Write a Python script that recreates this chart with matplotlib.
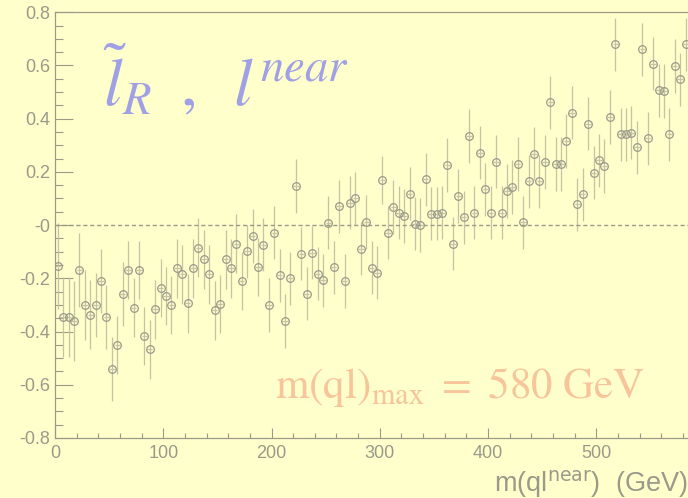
import numpy as np
import matplotlib
matplotlib.use("Agg")
import matplotlib.pyplot as plt
from matplotlib.ticker import MultipleLocator

# bin centres (GeV), 5 GeV bins
mass = [2.5, 7.5, 12.5, 17.5, 22.5, 27.5, 32.5, 37.5, 42.5, 47.5,
        52.5, 57.5, 62.5, 67.5, 72.5, 77.5, 82.5, 87.5, 92.5, 97.5,
        102.5, 107.5, 112.5, 117.5, 122.5, 127.5, 132.5, 137.5, 142.5, 147.5,
        152.5, 157.5, 162.5, 167.5, 172.5, 177.5, 182.5, 187.5, 192.5, 197.5,
        202.5, 207.5, 212.5, 217.5, 222.5, 227.5, 232.5, 237.5, 242.5, 247.5,
        252.5, 257.5, 262.5, 267.5, 272.5, 277.5, 282.5, 287.5, 292.5, 297.5,
        302.5, 307.5, 312.5, 317.5, 322.5, 327.5, 332.5, 337.5, 342.5, 347.5,
        352.5, 357.5, 362.5, 367.5, 372.5, 377.5, 382.5, 387.5, 392.5, 397.5,
        402.5, 407.5, 412.5, 417.5, 422.5, 427.5, 432.5, 437.5, 442.5, 447.5,
        452.5, 457.5, 462.5, 467.5, 472.5, 477.5, 482.5, 487.5, 492.5, 497.5,
        502.5, 507.5, 512.5, 517.5, 522.5, 527.5, 532.5, 537.5, 542.5, 547.5,
        552.5, 557.5, 562.5, 567.5, 572.5, 577.5, 582.5]

asym = [-0.154, -0.346, -0.346, -0.360, -0.169, -0.300, -0.336, -0.300, -0.210, -0.346,
        -0.540, -0.450, -0.260, -0.169, -0.310, -0.169, -0.417, -0.467, -0.317, -0.236,
        -0.267, -0.300, -0.163, -0.185, -0.294, -0.163, -0.085, -0.129, -0.185, -0.320,
        -0.296, -0.129, -0.163, -0.070, -0.210, -0.098, -0.041, -0.158, -0.073, -0.300,
        -0.029, -0.188, -0.360, -0.200, 0.147, -0.108, -0.258, -0.104, -0.183, -0.208,
        0.009, -0.158, 0.071, -0.210, 0.084, 0.100, -0.089, 0.012, -0.160, -0.179,
        0.168, -0.029, 0.068, 0.046, 0.034, 0.118, 0.005, 0.000, 0.172, 0.043,
        0.043, 0.046, 0.226, -0.070, 0.109, 0.030, 0.335, 0.046, 0.272, 0.134,
        0.046, 0.238, 0.046, 0.128, 0.143, 0.230, 0.011, 0.165, 0.268, 0.165,
        0.237, 0.462, 0.230, 0.230, 0.316, 0.422, 0.078, 0.115, 0.381, 0.197,
        0.243, 0.222, 0.406, 0.679, 0.341, 0.341, 0.347, 0.293, 0.660, 0.326,
        0.606, 0.506, 0.504, 0.341, 0.598, 0.548, 0.680]

err = [0.16, 0.15, 0.15, 0.15, 0.14, 0.13, 0.13, 0.12, 0.12, 0.12,
       0.12, 0.11, 0.12, 0.11, 0.11, 0.11, 0.11, 0.11, 0.11, 0.11,
       0.11, 0.11, 0.11, 0.11, 0.11, 0.11, 0.11, 0.11, 0.11, 0.11,
       0.11, 0.11, 0.11, 0.11, 0.11, 0.10, 0.10, 0.11, 0.10, 0.10,
       0.10, 0.10, 0.10, 0.10, 0.10, 0.10, 0.10, 0.10, 0.10, 0.10,
       0.10, 0.10, 0.10, 0.10, 0.10, 0.10, 0.10, 0.10, 0.10, 0.10,
       0.09, 0.10, 0.10, 0.10, 0.10, 0.10, 0.10, 0.10, 0.10, 0.10,
       0.10, 0.10, 0.10, 0.10, 0.10, 0.10, 0.10, 0.10, 0.10, 0.10,
       0.10, 0.10, 0.10, 0.10, 0.10, 0.10, 0.10, 0.10, 0.10, 0.10,
       0.10, 0.10, 0.10, 0.10, 0.10, 0.10, 0.10, 0.10, 0.10, 0.10,
       0.10, 0.10, 0.10, 0.10, 0.10, 0.10, 0.10, 0.10, 0.10, 0.10,
       0.10, 0.10, 0.10, 0.10, 0.10, 0.10, 0.10]

ytick_vals = [-0.8, -0.6, -0.4, -0.2, 0.0, 0.2, 0.4, 0.6, 0.8]
ytick_text = ["-0.8", "-0.6", "-0.4", "-0.2", "-0", "0.2", "0.4", "0.6", "0.8"]
xtick_vals = [0, 100, 200, 300, 400, 500]

BG = "#ffffcc"
GREY = "#9a9a8a"
LIGHT = "#c4c4a4"

plt.rcParams["font.family"] = ["Liberation Sans", "DejaVu Sans"]
plt.rcParams["mathtext.fontset"] = "stix"

fig = plt.figure(figsize=(6.88, 4.98), dpi=100, facecolor=BG)
ax = fig.add_axes([0.080, 0.1205, 0.944, 0.855], facecolor=BG)

ax.errorbar(mass, asym, yerr=err, xerr=2.5, fmt="o", ms=5.5, mfc="none",
            mec=GREY, mew=0.9, ecolor=LIGHT, elinewidth=0.9, capsize=0)
ax.axhline(0, color=GREY, lw=1.0, ls=(0, (3, 2)))

ax.set_xlim(0, 600)
ax.set_ylim(-0.8, 0.8)
ax.set_yticks(ytick_vals)
ax.set_yticklabels(ytick_text)
ax.set_xticks(xtick_vals)
ax.xaxis.set_minor_locator(MultipleLocator(20))
ax.yaxis.set_minor_locator(MultipleLocator(0.05))
ax.tick_params(axis="y", which="major", direction="in", length=13, width=0.8,
               color=GREY, labelcolor=GREY, labelsize=13, pad=3.5)
ax.tick_params(axis="y", which="minor", direction="in", length=6, width=0.8, color=GREY)
ax.tick_params(axis="x", which="major", direction="in", length=7.5, width=0.8,
               color=GREY, labelcolor=GREY, labelsize=13, pad=5)
ax.tick_params(axis="x", which="minor", direction="in", length=3.6, width=0.8, color=GREY)
for s in ax.spines.values():
    s.set_color(GREY)
    s.set_linewidth(0.9)

fig.text(103 / 688, 1 - 105 / 498, r"$\tilde{l}_R\;\;,\;\;l^{near}$",
         fontsize=48, color="#a0a0e4", va="baseline", ha="left")
ax.text(0.339, 0.094, r"$\mathrm{m(ql)_{max}\ =\ 580\ GeV}$", transform=ax.transAxes,
        fontsize=31, color="#f8c49a", va="baseline", ha="left")
fig.text(1.0, 7 / 498, r"m(ql$^{\mathrm{near}}$)  (GeV)", fontsize=19.5,
         color=GREY, ha="right", va="baseline", math_fontfamily="dejavusans")

fig.savefig("out.png", dpi=100, facecolor=BG)
